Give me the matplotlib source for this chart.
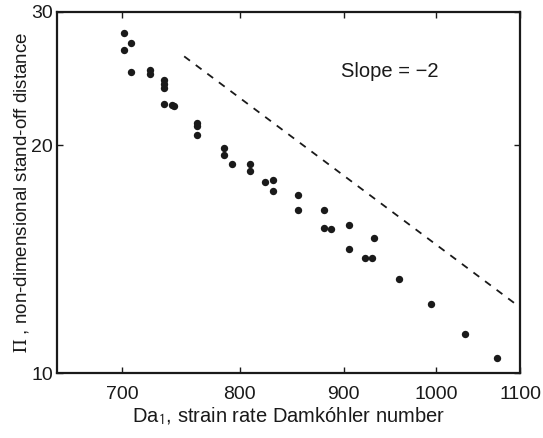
import numpy as np
import matplotlib
matplotlib.use('Agg')
import matplotlib.pyplot as plt
from matplotlib.ticker import FixedLocator, NullLocator, FixedFormatter

plt.rcParams['font.family'] = ['Liberation Sans', 'DejaVu Sans']
plt.rcParams['mathtext.fontset'] = 'stix'

# measured data (strain rate Damkohler number vs stand-off distance)
da1 = [701, 707, 701, 707, 722, 722, 734, 734, 734, 734, 741, 742,
       762, 762, 762, 786, 786, 793, 809, 809, 823, 831, 831,
       855, 855, 880, 880, 887, 906, 906, 932, 922, 930,
       958, 994, 1033, 1072]
pi_dist = [28.1, 27.3, 26.7, 25.0, 25.1, 24.8, 24.4, 24.1, 23.8, 22.7, 22.6, 22.55,
           21.4, 21.2, 20.6, 19.8, 19.4, 18.9, 18.9, 18.5, 17.9, 18.0, 17.4,
           17.2, 16.4, 16.4, 15.55, 15.5, 15.7, 14.6, 15.07, 14.2, 14.2,
           13.3, 12.35, 11.27, 10.47]

# reference line with slope -2
slope = -2.0
line_x = np.array([751.0, 1097.0])
line_c = 26.2 * 751.0 ** 2
line_y = line_c * line_x ** slope

xticks = [700, 800, 900, 1000, 1100]
yticks = [10, 20, 30]

fig = plt.figure(figsize=(5.43, 4.38), dpi=100)
ax = fig.add_axes([0.105, 0.148, 0.853, 0.825])

ax.plot(da1, pi_dist, 'o', color='#1a1a1a', markersize=5.3, markeredgewidth=0)
ax.plot(line_x, line_y, '--', color='#1a1a1a', linewidth=1.3, dashes=(4, 4))

ax.set_xscale('log')
ax.set_yscale('log')
ax.set_xlim(650, 1100)
ax.set_ylim(10, 30)

ax.xaxis.set_major_locator(FixedLocator(xticks))
ax.xaxis.set_major_formatter(FixedFormatter([str(t) for t in xticks]))
ax.xaxis.set_minor_locator(NullLocator())
ax.yaxis.set_major_locator(FixedLocator(yticks))
ax.yaxis.set_major_formatter(FixedFormatter([str(t) for t in yticks]))
ax.yaxis.set_minor_locator(NullLocator())

ax.tick_params(direction='in', length=4, width=1, top=True, right=True,
               labelsize=14, colors='#1a1a1a')
ax.tick_params(axis='x', pad=9)
ax.tick_params(axis='y', pad=3)
for s in ax.spines.values():
    s.set_linewidth(1.6)
    s.set_color('#1a1a1a')

ax.text(948, 25.0, 'Slope = \u22122', fontsize=14.5, ha='center', va='center', color='#1a1a1a')

ax.set_xlabel('Da$_{\\mathsf{1}}$, strain rate Damkóhler number', fontsize=14.5,
              color='#1a1a1a', labelpad=2)
ax.set_ylabel('$\\Pi$ , non-dimensional stand-off distance', fontsize=13.5,
              color='#1a1a1a', labelpad=0)

fig.savefig('out.png', dpi=100)
